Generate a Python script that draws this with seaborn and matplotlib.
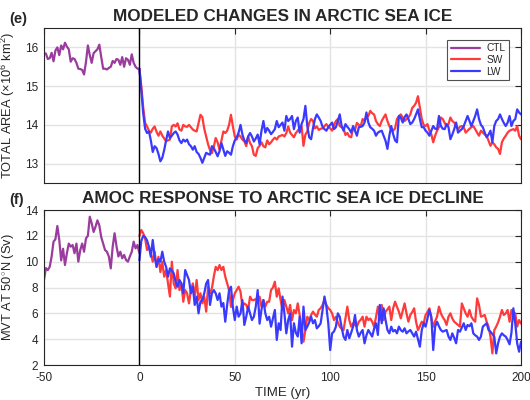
import numpy as np
import pandas as pd
import matplotlib
matplotlib.use("Agg")
import matplotlib.pyplot as plt
import seaborn as sns

# ---------------- data ----------------
years_ctl = list(range(-50, 1))
years_run = list(range(0, 201))

ice_ctl = [15.85, 15.84, 15.70, 15.72, 15.86, 15.64, 15.92, 16.00, 15.80, 16.05,
           15.95, 16.12, 16.02, 15.95, 15.63, 15.72, 15.70, 15.60, 15.45, 15.44,
           15.42, 15.30, 15.62, 16.05, 15.80, 15.60, 15.85, 15.90, 15.95, 16.07,
           15.75, 15.45, 15.45, 15.43, 15.47, 15.50, 15.65, 15.60, 15.70, 15.68,
           15.55, 15.75, 15.50, 15.72, 15.68, 15.55, 15.82, 15.60, 15.50, 15.45,
           15.45]

ice_sw = [15.45, 15.00, 14.45, 14.05, 13.96, 13.85, 13.80, 13.90, 13.96, 13.82,
          13.72, 13.83, 13.72, 13.65, 13.58, 13.60, 13.62, 13.96, 14.00, 13.96,
          14.04, 13.88, 13.85, 14.00, 13.96, 13.95, 14.00, 13.94, 13.88, 13.85,
          13.83, 14.04, 14.26, 14.20, 13.90, 13.70, 13.50, 13.35, 13.27, 13.44,
          13.66, 13.55, 13.36, 13.60, 13.83, 13.79, 13.85, 14.00, 14.26, 13.96,
          13.70, 13.62, 13.75, 13.70, 13.62, 13.58, 13.45, 13.70, 13.53, 13.45,
          13.23, 13.20, 13.40, 13.46, 13.55, 13.45, 13.42, 13.60, 13.50, 13.55,
          13.62, 13.67, 13.62, 13.70, 13.72, 13.74, 13.70, 13.79, 13.96, 13.80,
          13.74, 13.68, 13.79, 13.85, 13.92, 13.97, 13.46, 13.75, 13.83, 14.05,
          14.15, 14.10, 13.91, 13.96, 13.87, 13.90, 13.91, 13.97, 14.02, 13.95,
          13.91, 13.85, 14.00, 14.10, 14.15, 13.97, 13.94, 13.91, 13.74, 13.79,
          13.70, 13.68, 13.91, 13.87, 14.05, 14.00, 13.97, 14.15, 14.10, 14.20,
          14.23, 14.36, 14.30, 14.27, 14.10, 14.02, 13.97, 14.10, 14.19, 14.27,
          14.10, 13.97, 13.88, 13.85, 13.91, 14.15, 14.22, 14.27, 14.19, 14.10,
          14.15, 14.19, 14.27, 14.44, 14.49, 14.57, 14.74, 14.44, 14.15, 14.00,
          13.97, 14.02, 13.85, 13.76, 13.55, 13.72, 13.85, 13.94, 14.19, 14.15,
          14.05, 13.97, 14.02, 14.19, 14.10, 14.06, 13.97, 13.89, 13.95, 13.97,
          13.94, 13.80, 13.85, 13.90, 13.94, 13.97, 13.89, 13.80, 13.72, 13.85,
          13.80, 13.75, 13.72, 13.59, 13.46, 13.55, 13.50, 13.42, 13.38, 13.25,
          13.55, 13.65, 13.72, 13.80, 13.85, 13.87, 13.89, 13.85, 13.97, 13.72,
          13.63]

ice_lw = [15.45, 14.90, 14.30, 13.90, 13.79, 13.83, 13.60, 13.30, 13.45, 13.40,
          13.25, 13.06, 13.15, 13.35, 13.60, 13.83, 13.66, 13.72, 13.79, 13.83,
          13.75, 13.60, 13.53, 13.62, 13.57, 13.62, 13.50, 13.45, 13.36, 13.45,
          13.30, 13.25, 13.15, 13.02, 13.15, 13.28, 13.25, 13.23, 13.45, 13.40,
          13.30, 13.19, 13.32, 13.53, 13.36, 13.20, 13.32, 13.28, 13.23, 13.45,
          13.60, 13.68, 13.80, 14.00, 13.75, 13.60, 13.53, 13.70, 13.79, 13.70,
          13.57, 13.65, 13.75, 13.50, 13.85, 14.10, 13.80, 13.92, 13.85, 13.76,
          13.82, 13.89, 14.10, 13.94, 14.00, 14.06, 13.85, 14.23, 14.10, 14.15,
          14.23, 13.89, 14.10, 14.19, 13.80, 14.02, 14.15, 14.49, 13.97, 13.68,
          13.63, 13.92, 14.15, 14.27, 14.19, 14.10, 13.95, 13.89, 13.85, 13.94,
          14.00, 14.06, 13.89, 13.94, 14.10, 14.27, 13.97, 13.85, 14.02, 13.95,
          13.89, 13.80, 13.97, 13.85, 13.72, 13.94, 13.95, 13.97, 14.06, 14.32,
          14.06, 13.94, 13.90, 13.85, 13.72, 13.80, 13.83, 13.85, 13.72, 13.59,
          13.38, 13.72, 13.97, 13.76, 13.60, 13.55, 14.23, 14.19, 14.06, 14.20,
          14.27, 14.15, 14.02, 14.06, 14.15, 14.27, 14.40, 14.15, 13.94, 13.94,
          13.85, 13.80, 13.72, 13.85, 13.97, 13.90, 13.89, 14.23, 13.97, 13.90,
          13.89, 14.02, 13.94, 13.63, 13.75, 13.89, 14.06, 13.80, 13.85, 13.89,
          13.97, 14.10, 14.23, 14.10, 13.97, 14.10, 14.23, 14.40, 14.15, 14.00,
          13.94, 13.80, 13.68, 13.75, 13.85, 13.55, 13.97, 14.10, 14.15, 14.27,
          14.15, 14.05, 13.97, 14.06, 14.23, 13.97, 14.10, 14.15, 14.40, 14.32,
          14.27]

amoc_ctl = [8.60, 9.50, 9.35, 9.60, 10.40, 11.55, 11.74, 12.76, 11.70, 10.10,
            11.00, 9.74, 10.65, 11.40, 11.16, 11.29, 10.65, 11.40, 10.00, 10.90,
            11.40, 10.77, 11.80, 12.00, 13.48, 12.97, 12.30, 12.70, 13.20, 12.80,
            11.90, 11.40, 10.90, 10.77, 10.40, 9.48, 11.16, 12.20, 11.20, 10.40,
            10.77, 10.26, 10.52, 10.13, 10.00, 10.40, 10.77, 11.55, 11.03, 11.29,
            10.65]

amoc_sw = [12.00, 12.45, 12.20, 11.80, 10.90, 11.16, 10.65, 10.00, 10.77, 9.60,
           10.37, 9.20, 9.99, 8.84, 9.35, 8.30, 7.30, 10.00, 8.30, 7.93,
           9.35, 7.80, 8.30, 6.90, 7.80, 7.55, 6.77, 7.80, 8.32, 7.30,
           8.58, 7.03, 7.55, 6.77, 7.30, 6.13, 8.06, 7.55, 7.94, 8.84,
           9.60, 9.35, 9.74, 9.35, 9.60, 8.84, 8.32, 7.80, 6.50, 7.03,
           7.55, 7.80, 8.06, 7.68, 6.52, 6.77, 6.65, 6.26, 7.29, 7.03,
           7.03, 7.10, 7.03, 7.29, 6.52, 7.03, 6.52, 6.90, 6.90, 7.80,
           8.00, 8.45, 7.29, 7.93, 7.03, 6.26, 7.03, 6.50, 6.00, 6.65,
           5.48, 6.26, 6.00, 6.77, 5.87, 4.80, 3.80, 4.70, 5.74, 5.48,
           5.87, 6.13, 5.90, 5.74, 6.26, 6.40, 6.65, 7.03, 6.65, 6.40,
           6.26, 6.00, 5.48, 5.74, 5.30, 4.97, 4.80, 4.70, 5.61, 6.52,
           5.48, 4.97, 5.23, 5.10, 4.97, 5.35, 5.50, 5.74, 4.97, 5.74,
           5.48, 5.60, 5.35, 4.97, 5.70, 6.52, 5.48, 6.65, 5.48, 6.13,
           6.30, 6.52, 5.48, 6.39, 6.90, 6.50, 6.13, 5.61, 6.20, 6.77,
           6.00, 5.35, 5.87, 6.10, 6.39, 5.35, 4.70, 5.00, 5.35, 5.23,
           5.87, 6.10, 6.39, 5.61, 4.97, 5.40, 5.74, 6.52, 6.00, 5.70,
           5.48, 5.10, 5.74, 6.00, 5.60, 5.35, 5.23, 5.10, 4.97, 6.77,
           6.39, 6.00, 5.74, 6.26, 5.74, 5.50, 5.35, 7.16, 6.65, 5.74,
           5.80, 5.87, 5.35, 4.97, 4.20, 2.90, 4.70, 4.97, 5.30, 5.74,
           6.26, 5.87, 6.00, 6.26, 5.35, 6.26, 6.10, 6.00, 4.97, 5.48,
           5.20]

amoc_lw = [10.10, 11.60, 12.00, 11.90, 11.65, 11.16, 10.39, 11.68, 10.39, 9.60,
           10.20, 10.00, 10.77, 10.00, 9.60, 8.84, 9.48, 9.30, 9.10, 8.45,
           8.06, 8.58, 8.32, 7.55, 9.35, 8.97, 8.58, 7.55, 8.06, 6.65,
           7.29, 6.00, 6.90, 7.03, 7.55, 8.30, 8.58, 6.65, 7.55, 7.80,
           7.55, 7.03, 7.55, 6.52, 6.80, 5.35, 6.65, 7.80, 8.06, 6.50,
           5.48, 6.52, 5.74, 6.00, 7.03, 5.10, 5.74, 6.52, 6.00, 5.48,
           5.74, 6.52, 7.80, 5.20, 6.30, 7.03, 6.00, 5.48, 5.74, 4.97,
           5.60, 6.26, 3.94, 5.23, 4.71, 7.30, 6.00, 4.45, 5.48, 6.00,
           3.42, 5.23, 4.50, 4.20, 5.74, 3.68, 6.52, 4.71, 4.97, 5.30,
           5.74, 5.23, 5.48, 4.84, 5.00, 5.23, 6.26, 7.30, 6.52, 5.23,
           3.16, 4.45, 4.60, 4.97, 6.00, 5.74, 4.90, 4.20, 3.94, 4.71,
           4.07, 4.50, 4.97, 5.87, 4.71, 4.20, 4.50, 4.71, 3.68, 4.30,
           4.71, 4.45, 4.20, 4.80, 5.23, 4.33, 6.65, 5.23, 6.39, 5.50,
           4.71, 4.45, 4.97, 4.60, 4.71, 4.45, 4.97, 4.70, 4.58, 4.84,
           4.45, 4.60, 4.71, 4.45, 4.20, 4.58, 4.00, 3.42, 4.71, 5.23,
           4.97, 5.60, 6.26, 5.74, 3.16, 4.97, 5.35, 5.00, 4.71, 4.58,
           4.65, 4.71, 4.20, 3.94, 4.45, 4.10, 3.68, 4.71, 4.58, 4.90,
           5.23, 4.71, 5.10, 5.00, 5.23, 4.45, 4.30, 4.20, 3.94, 4.20,
           4.97, 5.10, 5.23, 4.71, 4.58, 4.40, 4.20, 2.90, 3.68, 4.20,
           4.45, 4.30, 4.20, 3.94, 3.60, 4.50, 6.39, 5.23, 3.68, 3.03,
           3.80]

series_names = ["CTL", "SW", "LW"]
series_colors = {"CTL": "#9a3c9e", "SW": "#ff3a3a", "LW": "#3a3aff"}

title_top = "MODELED CHANGES IN ARCTIC SEA ICE"
title_bot = "AMOC RESPONSE TO ARCTIC SEA ICE DECLINE"
ylabel_top = r"TOTAL AREA ($\times$10$^{6}$ km$^{2}$)"
ylabel_bot = r"MVT AT 50$^{\circ}$N (Sv)"
xlabel = "TIME (yr)"
xticks = [-50, 0, 50, 100, 150, 200]
yticks_top = [13, 14, 15, 16]
yticks_bot = [2, 4, 6, 8, 10, 12, 14]

# ---------------- style ----------------
sns.set_style("white")
plt.rcParams["font.family"] = ["Liberation Sans", "DejaVu Sans"]
plt.rcParams["mathtext.fontset"] = "custom"
plt.rcParams["mathtext.rm"] = "Liberation Sans"
plt.rcParams["mathtext.it"] = "Liberation Sans:italic"
plt.rcParams["mathtext.bf"] = "Liberation Sans:bold"

def make_df(ctl, sw, lw):
    parts = [pd.DataFrame({"year": years_ctl, "value": ctl, "run": "CTL"}),
             pd.DataFrame({"year": years_run, "value": sw, "run": "SW"}),
             pd.DataFrame({"year": years_run, "value": lw, "run": "LW"})]
    return pd.concat(parts, ignore_index=True)

df_top = make_df(ice_ctl, ice_sw, ice_lw)
df_bot = make_df(amoc_ctl, amoc_sw, amoc_lw)

fig = plt.figure(figsize=(5.3, 4.0), dpi=100)
ax1 = fig.add_axes([0.083, 0.5425, 0.900, 0.3875])
ax2 = fig.add_axes([0.083, 0.0875, 0.900, 0.3875])

axcol = "#262626"
for ax, df, yt, yl, ylab in [(ax1, df_top, yticks_top, (12.5, 16.5), ylabel_top),
                              (ax2, df_bot, yticks_bot, (2, 14), ylabel_bot)]:
    ax.set_axisbelow(True)
    ax.grid(True, color="#e3e3e3", linewidth=1.0)
    for name in series_names:
        sub = df[df["run"] == name]
        sns.lineplot(data=sub, x="year", y="value", ax=ax, color=series_colors[name],
                     linewidth=1.6, estimator=None, sort=False, label=name, legend=False)
    ax.axvline(0, color="black", linewidth=1.0, zorder=5)
    ax.set_xlim(-50, 200)
    ax.set_ylim(*yl)
    ax.set_xticks(xticks)
    ax.set_yticks(yt)
    ax.set_ylabel(ylab, fontsize=9.3, color=axcol, labelpad=6)
    ax.tick_params(direction="in", length=4, width=0.8, top=True, right=True,
                   colors=axcol, labelsize=8.5, labelcolor=axcol)
    ax.tick_params(axis="x", pad=5)
    ax.tick_params(axis="y", pad=4)
    for s in ax.spines.values():
        s.set_color(axcol)
        s.set_linewidth(0.8)

ax1.set_xlabel("")
ax1.set_xticklabels([])
ax2.set_xlabel(xlabel, fontsize=9.5, color=axcol, labelpad=2)
ax2.set_xticklabels([str(t) for t in xticks])

ax1.set_title(title_top, fontsize=12.3, fontweight="bold", pad=5)
ax2.set_title(title_bot, fontsize=12.3, fontweight="bold", pad=5)

fig.text(0.018, 0.935, "(e)", fontsize=10.5, fontweight="bold", va="bottom")
fig.text(0.018, 0.483, "(f)", fontsize=10.5, fontweight="bold", va="bottom")

handles, labels = ax1.get_legend_handles_labels()
leg = ax1.legend(handles, labels, loc="upper right", bbox_to_anchor=(0.975, 0.923),
                 borderaxespad=0, fontsize=7.3, frameon=True, fancybox=False,
                 edgecolor="#262626", handlelength=2.9, handletextpad=0.6,
                 labelspacing=0.15, borderpad=0.35)
leg.get_frame().set_linewidth(0.8)

fig.savefig("out.png", dpi=100)
